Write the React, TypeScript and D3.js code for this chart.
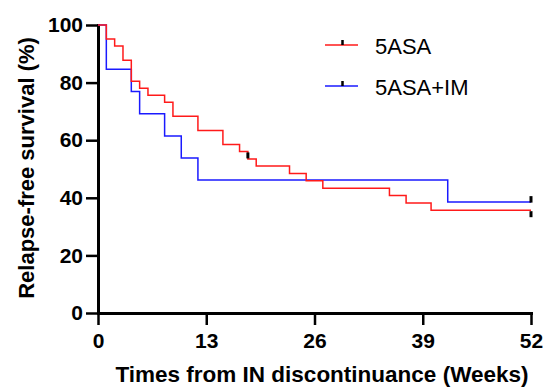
import React, { useEffect, useRef } from 'react';
import * as d3 from 'd3';

// Kaplan-Meier steps (weeks, survival %)
const asaTimes = [0, 1, 2, 3, 4, 5, 6, 8, 9, 12, 15, 17, 18, 19, 23, 25, 27, 35, 37, 40, 52];
const asaSurv = [100, 95.1, 92.7, 87.8, 80.5, 78.0, 75.6, 73.2, 68.3, 63.4, 58.5, 56.1, 53.5, 51.0, 48.4, 45.9, 43.3, 40.8, 38.2, 35.7, 35.7];
const asaCensor = [[18, 56.1], [52, 35.7]];

const imTimes = [0, 1, 4, 5, 8, 10, 12, 42, 52];
const imSurv = [100, 84.6, 76.9, 69.2, 61.5, 53.8, 46.2, 38.5, 38.5];
const imCensor = [[52, 38.5]];

const xTicks = [0, 13, 26, 39, 52];
const yTicks = [0, 20, 40, 60, 80, 100];
const seriesNames = ['5ASA', '5ASA+IM'];
const seriesColors = ['#ff1a1a', '#1a1aff'];

const W = 544;
const H = 388;
const FONT = '"Liberation Sans", Arial, sans-serif';

export default function App() {
  const ref = useRef<SVGSVGElement>(null);

  useEffect(() => {
    const svg = d3.select(ref.current);
    svg.selectAll('*').remove();

    const x = d3.scaleLinear().domain([0, 52]).range([98, 531]);
    const y = d3.scaleLinear().domain([0, 100]).range([313, 25]);

    // axes
    const yAxis = svg.append('g')
      .attr('transform', `translate(${x(0)},0)`)
      .call(d3.axisLeft(y).tickValues(yTicks).tickSize(12).tickSizeOuter(0).tickPadding(3));
    const xAxis = svg.append('g')
      .attr('transform', `translate(0,${y(0)})`)
      .call(d3.axisBottom(x).tickValues(xTicks).tickSize(12).tickSizeOuter(0).tickPadding(8));

    [yAxis, xAxis].forEach(g => {
      g.select('.domain').attr('stroke', '#000').attr('stroke-width', 3).attr('stroke-linecap', 'square');
      g.selectAll('.tick line').attr('stroke', '#000').attr('stroke-width', 2.5);
      g.selectAll('.tick text')
        .attr('fill', '#000')
        .style('font-family', FONT)
        .style('font-weight', 'bold')
        .style('font-size', '21px');
    });

    const line = d3.line<[number, number]>()
      .x(d => x(d[0]))
      .y(d => y(d[1]))
      .curve(d3.curveStepAfter);

    const series = [
      { times: imTimes, surv: imSurv, color: seriesColors[1], censor: imCensor, up: true },
      { times: asaTimes, surv: asaSurv, color: seriesColors[0], censor: asaCensor, up: false },
    ];

    series.forEach(s => {
      const pts = s.times.map((t, i) => [t, s.surv[i]] as [number, number]);
      svg.append('path')
        .attr('d', line(pts))
        .attr('fill', 'none')
        .attr('stroke', s.color)
        .attr('stroke-width', 1.5);
    });

    series.forEach(s => {
      s.censor.forEach(c => {
        const cy = y(c[1]);
        svg.append('line')
          .attr('x1', x(c[0])).attr('x2', x(c[0]))
          .attr('y1', s.up ? cy - 6 : cy + 1)
          .attr('y2', s.up ? cy + 0.5 : cy + 7)
          .attr('stroke', '#000')
          .attr('stroke-width', 3);
      });
    });

    // legend
    const legend = svg.append('g');
    seriesNames.forEach((name, i) => {
      const ly = 45 + i * 41;
      legend.append('line')
        .attr('x1', 325).attr('x2', 358).attr('y1', ly).attr('y2', ly)
        .attr('stroke', seriesColors[i]).attr('stroke-width', 1.5);
      legend.append('line')
        .attr('x1', 342.5).attr('x2', 342.5).attr('y1', ly - 5).attr('y2', ly)
        .attr('stroke', '#000').attr('stroke-width', 2.5);
      legend.append('text')
        .attr('x', 375).attr('y', ly + 9)
        .style('font-family', FONT)
        .style('font-size', '22px')
        .attr('fill', '#000')
        .text(name);
    });

    // titles
    svg.append('text')
      .attr('x', 322).attr('y', 382)
      .attr('text-anchor', 'middle')
      .style('font-family', FONT)
      .style('font-weight', 'bold')
      .style('font-size', '22.5px')
      .text('Times from IN discontinuance (Weeks)');
    svg.append('text')
      .attr('transform', 'translate(34,168) rotate(-90)')
      .attr('text-anchor', 'middle')
      .style('font-family', FONT)
      .style('font-weight', 'bold')
      .style('font-size', '22px')
      .text('Relapse-free survival (%)');
  }, []);

  return (
    <svg ref={ref} width={W} height={H}
      style={{ position: 'absolute', left: 0, top: 0, background: '#fff' }} />
  );
}
